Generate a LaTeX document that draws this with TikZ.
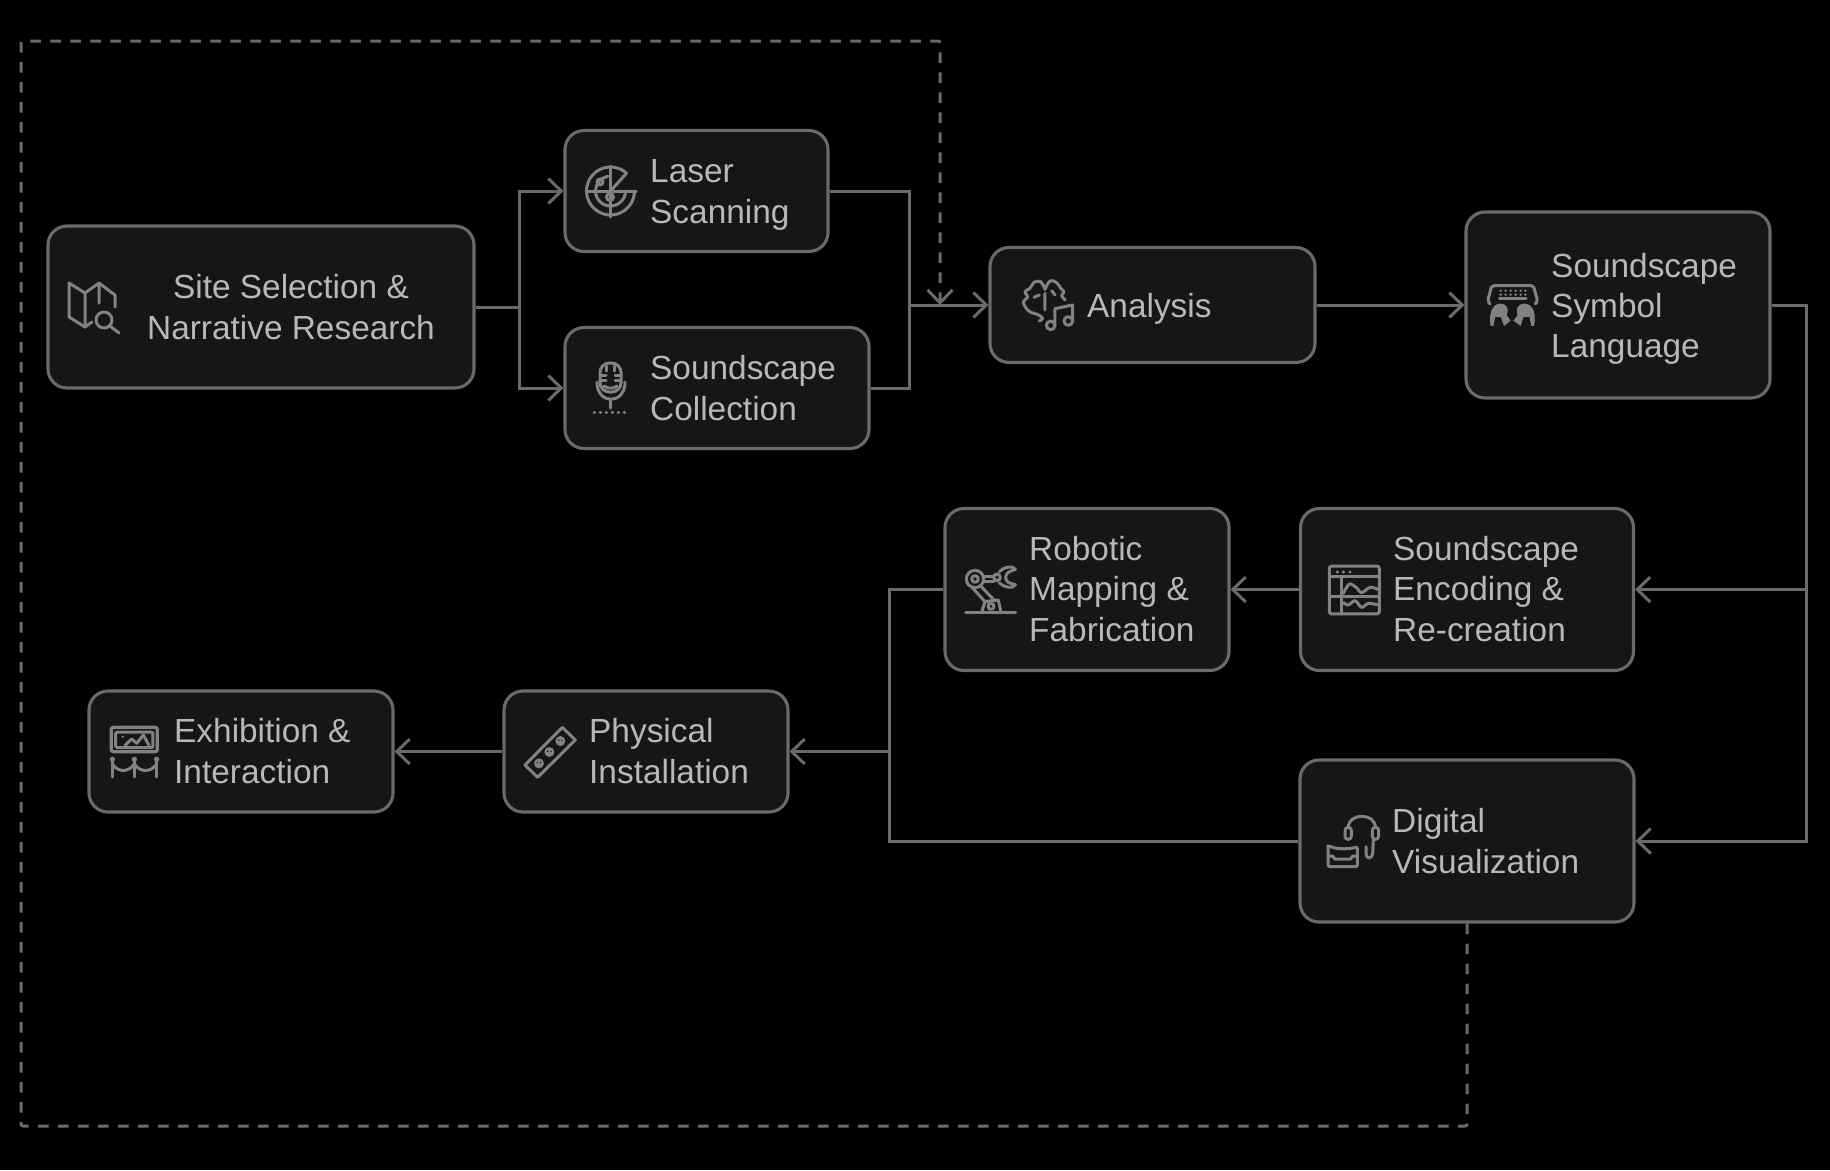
\documentclass[tikz,border=0pt]{standalone}
\usepackage{fontspec}
\setmainfont{Liberation Sans}
\usepackage{xcolor}
\usetikzlibrary{arrows.meta,calc}
\definecolor{boxfill}{RGB}{22,22,22}
\definecolor{edgegray}{RGB}{106,106,106}
\definecolor{textgray}{RGB}{184,184,184}
\definecolor{icongray}{RGB}{130,130,130}

\begin{document}
\begin{tikzpicture}[
    x=1pt,y=-1pt,
    box/.style={draw=edgegray,fill=boxfill,line width=3.1pt,rounded corners=19pt,inner sep=0pt},
    boxtext/.style={text=textgray,font=\fontsize{33.4}{40.3}\selectfont,align=left,anchor=west,inner sep=0pt},
    flow/.style={draw=edgegray,line width=3pt},
    feedback/.style={flow,rounded corners=2pt,dash pattern=on 10.5pt off 9.5pt},
    iconline/.style={draw=icongray,line width=3pt,line cap=round,line join=round},
    iconfill/.style={fill=icongray},
    iconat/.style 2 args={shift={(#1,#2)},x=.3333pt,y=-.3333pt},
    >={Straight Barb[length=13pt,width=25pt]}
]
\fill[black] (0,0) rectangle (1830,1170);
\useasboundingbox (0,0) rectangle (1830,1170);

\node[box,minimum width=426pt,minimum height=162pt] (site) at (261,307) {};
\node[box,minimum width=263pt,minimum height=121pt] (laser) at (696.5,191) {};
\node[box,minimum width=304pt,minimum height=121pt] (sound) at (717,388) {};
\node[box,minimum width=325pt,minimum height=115pt] (analysis) at (1152.5,305) {};
\node[box,minimum width=304pt,minimum height=186pt] (symbol) at (1618,305) {};
\node[box,minimum width=333pt,minimum height=162pt] (encoding) at (1467,589.5) {};
\node[box,minimum width=284pt,minimum height=162pt] (robotic) at (1087,589.5) {};
\node[box,minimum width=334pt,minimum height=162pt] (digital) at (1467,841) {};
\node[box,minimum width=284pt,minimum height=121pt] (physical) at (646,751.5) {};
\node[box,minimum width=304pt,minimum height=121pt] (exhibit) at (241,751.5) {};

\node[boxtext,align=center,anchor=center] (sitetext) at (291,307) {Site Selection \&\\Narrative Research};
\node[boxtext] (lasertext) at (650,195) {Laser\\Scanning};
\node[boxtext] (soundtext) at (650,388) {Soundscape\\Collection};
\node[boxtext] (analysistext) at (1087,309) {Analysis};
\node[boxtext] (symboltext) at (1551,309) {Soundscape\\Symbol\\Language};
\node[boxtext] (encodingtext) at (1393,589) {Soundscape\\Encoding \&\\Re-creation};
\node[boxtext] (robotictext) at (1029,589) {Robotic\\Mapping \&\\Fabrication};
\node[boxtext] (digitaltext) at (1392,841) {Digital\\Visualization};
\node[boxtext] (physicaltext) at (589,751) {Physical\\Installation};
\node[boxtext] (exhibittext) at (174,751) {Exhibition \&\\Interaction};

\coordinate (split) at (519,307);
\coordinate (merge) at (909,305);
\coordinate (rail) at (1806,305);
\coordinate (join) at (889,751.5);
\coordinate (fbse) at (1467,1126);
\coordinate (fbsw) at (21,1126);
\coordinate (fbnw) at (21,41);
\coordinate (fbne) at (940,41);
\coordinate (fbin) at (940,305);

\draw[flow,->] (site) -- (split) |- (laser);
\draw[flow,->] (split) |- (sound);
\draw[flow] (laser) -| (merge);
\draw[flow] (sound) -| (merge);
\draw[flow,->] (merge) -- (analysis);
\draw[flow,->] (analysis) -- (symbol);
\draw[flow,->] (symbol) -- (rail) |- (encoding);
\draw[flow,->] (rail) |- (digital);
\draw[flow,->] (encoding) -- (robotic);
\draw[flow] (robotic) -| (join);
\draw[flow] (digital) -| (join);
\draw[flow,->] (join) -- (physical);
\draw[flow,->] (physical) -- (exhibit);
\draw[feedback,->] (digital.south) -- (fbse) -- (fbsw) -- (fbnw) -- (fbne) -- (fbin);

% map
\draw[iconline] (99,303) -- (99,283) -- (85,293) -- (69,283) -- (69,317) -- (85,327) -- (92,322);
\draw[iconline] (85,293) -- (85,327) (99,283) -- (115,295) -- (115,307);
\draw[iconline] (104,320) circle[radius=8];
\draw[iconline] (110,326) -- (119,333);

% radar
\draw[iconline] ([shift={(610.5,191)}]48:24pt) arc[start angle=48,end angle=360,radius=24pt];
\draw[iconline] (610.5,191) -- ([shift={(610.5,191)}]48:24pt);
\draw[iconline] (586,191) -- (636,191) (610.5,166) -- (610.5,217);
\draw[iconline] ([shift={(610.5,191)}]180:15pt) arc[start angle=180,end angle=360,radius=15pt];
\draw[iconline] ([shift={(610.5,191)}]180:15pt) arc[start angle=180,end angle=100,radius=15pt];
\draw[iconline] (600,182) circle[radius=3];
\draw[iconline] (610,197) circle[radius=3.5];

% microphone
\draw[iconline,rounded corners=9.5pt] (600,380) -- (600,363) -- (621,363) -- (621,392) -- (600,392) -- (600,380);
\draw[iconline] (606,366) -- (606,371) (614,366) -- (614,371);
\draw[iconline] (600,375) -- (606,375) (615,375) -- (621,375) (600,380) -- (606,380) (615,380) -- (621,380);
\draw[iconline] (604,386) .. controls (608,389) and (613,389) .. (617,386);
\draw[iconline] (597,382) .. controls (597,405) and (625,405) .. (625,382);
\draw[iconline] (610.5,400) -- (610.5,408);
\draw[iconline,dash pattern=on .5pt off 5.5pt] (594,412) -- (628,412);

% brain and note
\begin{scope}[iconat={880}{200}]
\draw[iconline] plot[smooth,tension=.6] coordinates {(495,268) (482,245) (462,247) (450,265) (435,275) (443,292) (430,305) (440,327) (455,338) (472,343) (488,355) (478,363)};
\draw[iconline] plot[smooth,tension=.6] coordinates {(495,268) (510,243) (530,248) (542,265) (552,275) (545,287) (556,300)};
\draw[iconline] (495,280) -- (495,330) (478,285) -- (462,292) (515,272) -- (525,285);
\draw[iconline] (525,374) -- (525,326) -- (578,315) -- (578,362);
\draw[iconline] (512,376) circle[radius=13];
\draw[iconline] (565,363) circle[radius=13];
\end{scope}

% keyboard and two heads
\begin{scope}[iconat={1440}{200}]
\draw[iconline,rounded corners=2pt] (150,312) -- (143,303) -- (155,257) -- (280,257) -- (293,303) -- (286,312);
\foreach \kx in {182,197,212,227,242,256} {
  \fill[icongray] (\kx,272) circle[radius=4];
  \fill[icongray] (\kx,284) circle[radius=4];
}
\draw[iconline] (178,297) -- (258,297);
\fill[iconfill] (152,378) .. controls (143,330) and (165,305) .. (190,312) .. controls (205,318) and (205,335) .. (200,345) -- (212,362) -- (192,378) -- (183,352) -- (166,350) -- (160,378) -- cycle;
\fill[iconfill] (282,378) .. controls (292,330) and (270,305) .. (245,312) .. controls (228,318) and (228,335) .. (233,345) -- (220,362) -- (242,378) -- (250,352) -- (268,350) -- (274,378) -- cycle;
\end{scope}

% robot arm
\begin{scope}[iconat={930}{490}]
\draw[iconline] (107,369) -- (257,369);
\draw[iconline] (155,367) -- (165,335) -- (205,330) -- (213,367);
\draw[iconline] (183,349) circle[radius=9];
\draw[iconline] (135,267) circle[radius=26];
\draw[iconline] (135,267) circle[radius=10];
\draw[iconline] (125,291) -- (165,335) (152,288) -- (193,331);
\draw[iconline] (161,258) -- (192,258) (161,276) -- (192,276);
\draw[iconline] (201,262) circle[radius=10];
\draw[iconline] (208,245) .. controls (222,230) and (250,225) .. (256,238) -- (236,246) .. controls (224,254) and (224,272) .. (236,278) -- (256,284) .. controls (250,298) and (222,292) .. (208,279);
\end{scope}

% soundscape window
\begin{scope}[iconat={1290}{490}]
\draw[iconline,rounded corners=2.5pt] (118,228) rectangle (268,372);
\draw[iconline] (118,260) -- (268,260) (118,320) -- (268,320) (153,260) -- (153,372);
\fill[icongray] (142,246) circle[radius=5];
\fill[icongray] (160,246) circle[radius=5];
\fill[icongray] (180,246) circle[radius=5];
\draw[iconline] plot[smooth] coordinates {(160,310) (178,282) (198,292) (215,308) (240,292) (264,298)};
\draw[iconline] plot[smooth] coordinates {(160,338) (175,345) (195,332) (215,352) (235,340) (264,345)};
\end{scope}

% framed picture and barrier
\begin{scope}[iconat={80}{680}]
\draw[iconline,line width=3.2pt,rounded corners=2pt] (94,142) rectangle (232,215);
\draw[iconline,rounded corners=1.5pt] (107,156) rectangle (219,203);
\fill[icongray] (128,170) circle[radius=4];
\draw[iconline] (135,196) -- (155,177) -- (170,190) -- (190,165) -- (207,196);
\foreach \px in {97,163,230} {
  \draw[iconline] (\px,245) -- (\px,291);
  \fill[icongray] (\px,238) circle[radius=8];
}
\draw[iconline] (97,252) .. controls (115,278) and (145,278) .. (163,252) .. controls (181,278) and (212,278) .. (230,252);
\end{scope}

% socket strip
\begin{scope}[iconat={490}{680}]
\draw[iconline] (105,255) -- (217,142) -- (256,180) -- (143,292) -- cycle;
\foreach \cx/\cy in {147/250,178/216,211/183} {
  \fill[icongray] (\cx,\cy) circle[radius=15];
  \fill[boxfill] (\cx-5,\cy-2) circle[radius=2.5];
  \fill[boxfill] (\cx+5,\cy-2) circle[radius=2.5];
}
\end{scope}

% headset and goggles
\begin{scope}[iconat={1290}{750}]
\draw[iconline] (175,232) .. controls (175,188) and (256,188) .. (256,232);
\draw[iconline,rounded corners=3pt] (165,232) rectangle (184,268);
\draw[iconline,rounded corners=3pt] (247,232) rectangle (266,268);
\draw[iconline] (250,268) -- (248,312) .. controls (245,328) and (228,328) .. (228,310) -- (228,290);
\draw[iconline,rounded corners=2pt] (119,288) .. controls (140,298) and (180,298) .. (202,290) -- (202,350) -- (114,350) -- (114,288) -- cycle;
\draw[iconline] (114,318) -- (128,318) -- (134,327) -- (182,327) -- (188,318) -- (202,318);
\end{scope}
\end{tikzpicture}
\end{document}
